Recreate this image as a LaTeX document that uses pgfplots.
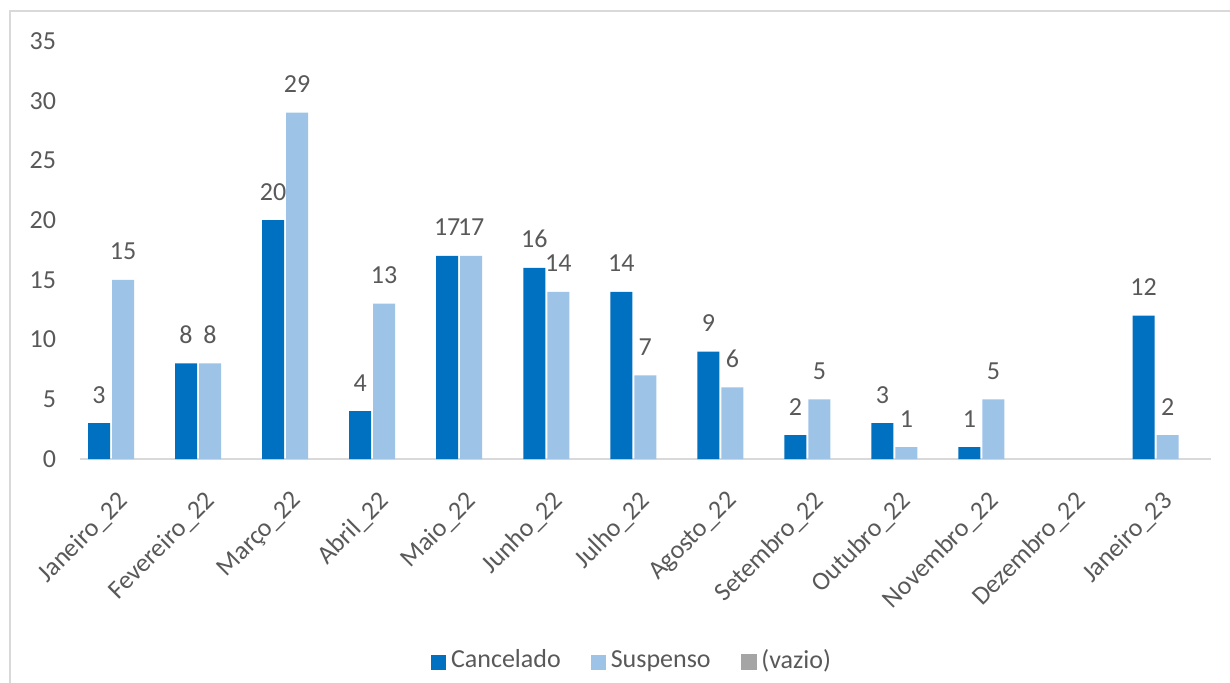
\documentclass[border=0pt]{standalone}
\usepackage{pgfplots}
\pgfplotsset{compat=1.18}
\usepackage{fontspec}
\setmainfont{Carlito}
\definecolor{cdark}{HTML}{0070C0}
\definecolor{clight}{HTML}{9DC3E6}
\definecolor{cgray}{HTML}{A5A5A5}
\definecolor{ctext}{HTML}{595959}
\definecolor{cframe}{HTML}{D9D9D9}
\newcommand{\chartfont}{\fontsize{13bp}{15bp}\selectfont}
\begin{document}
\begin{tikzpicture}
\useasboundingbox (0,0) rectangle (615bp,341.5bp);
\draw[cframe, line width=1bp] (4.75bp,0) -- (4.75bp,336bp) -- (615bp,336bp);
\begin{axis}[
  at={(39.75bp,112bp)}, anchor=south west,
  scale only axis, width=565.8bp, height=209bp,
  ybar, bar width=11bp,
  xmin=-0.5, xmax=12.5, ymin=0, ymax=35,
  ytick={0,5,...,35},
  xtick={0,...,12},
  xticklabels={Janeiro\_22, Fevereiro\_22, Março\_22, Abril\_22, Maio\_22, Junho\_22, Julho\_22, Agosto\_22, Setembro\_22, Outubro\_22, Novembro\_22, Dezembro\_22, Janeiro\_23},
  axis x line=bottom, axis y line=left,
  x axis line style={cframe, line width=1bp, -},
  y axis line style={draw=none},
  major tick length=0pt,
  tick style={draw=none},
  tick label style={text=ctext, font=\chartfont},
  /pgf/number format/assume math mode=true,
  yticklabel style={anchor=east, inner sep=0pt, xshift=-11.5bp},
  xticklabel style={anchor=east, inner sep=0pt, xshift=0.5bp, yshift=-19bp, rotate=45},
  nodes near coords,
  every node near coord/.append style={text=ctext, font=\chartfont, anchor=base, yshift=10bp, inner sep=0pt},
  legend columns=3,
  legend style={at={(0.4874,-0.481)}, anchor=center, draw=none, fill=none,
    font=\chartfont, text=ctext, nodes={inner sep=0pt},
    /tikz/every odd column/.append style={column sep=2.5bp},
    /tikz/every even column/.append style={column sep=15bp}},
  clip=false,
]
\addplot[fill=cdark, draw=none, bar shift=-12bp,
  legend image code/.code={\fill[cdark] (0bp,-4.75bp) rectangle (7.5bp,2.75bp);}]
  coordinates {(0,3) (1,8) (2,20) (3,4) (4,17) (5,16) (6,14) (7,9) (8,2) (9,3) (10,1) (12,12)};
\addlegendentry{Cancelado}
\addplot[fill=clight, draw=none, bar shift=0bp,
  legend image code/.code={\fill[clight] (0bp,-4.75bp) rectangle (7.5bp,2.75bp);}]
  coordinates {(0,15) (1,8) (2,29) (3,13) (4,17) (5,14) (6,7) (7,6) (8,5) (9,1) (10,5) (12,2)};
\addlegendentry{Suspenso}
\addlegendimage{legend image code/.code={\fill[cgray] (0bp,-4.75bp) rectangle (7.5bp,2.75bp);}}
\addlegendentry{(vazio)}
\end{axis}
\end{tikzpicture}
\end{document}
